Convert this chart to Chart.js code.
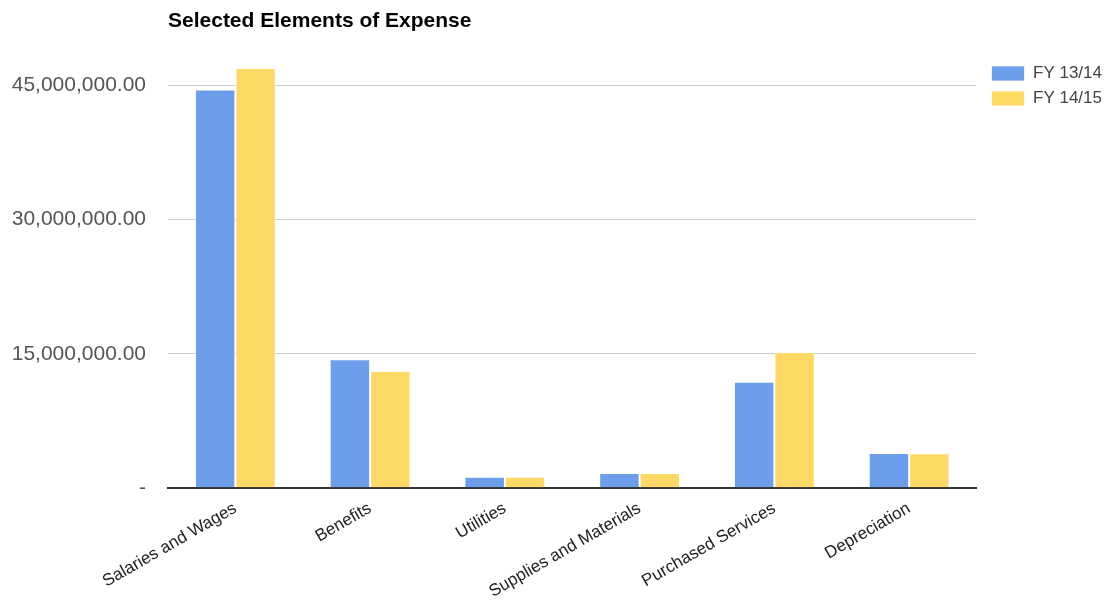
<!DOCTYPE html>
<html>
<head>
<meta charset="utf-8">
<script src="https://cdn.jsdelivr.net/npm/chart.js@4.4.1/dist/chart.umd.min.js"></script>
<style>
  html, body { margin: 0; padding: 0; background: #fff; }
  #wrap { width: 1105px; height: 606px; }
</style>
</head>
<body>
<div id="wrap"><canvas id="chart" width="1105" height="606"></canvas></div>
<script>
const categories = ['Salaries and Wages', 'Benefits', 'Utilities', 'Supplies and Materials', 'Purchased Services', 'Depreciation'];
const fy1314 = [44500000, 14400000, 1300000, 1700000, 11900000, 3940000];
const fy1415 = [46900000, 13100000, 1280000, 1700000, 15200000, 3920000];
const yTicks = [0, 15000000, 30000000, 45000000];

const FONT = 'Liberation Sans, Arial, sans-serif';
const fmt = v => v === 0 ? '-' : v.toLocaleString('en-US', { minimumFractionDigits: 2, maximumFractionDigits: 2 });

// nudge the legend down/right so it sits like the original
const legendShift = {
  id: 'legendShift',
  afterLayout(chart) {
    const lg = chart.legend;
    if (!lg) return;
    lg.left += 7; lg.right += 7;
    lg.top += 57; lg.bottom += 57;
  },
};

new Chart(document.getElementById('chart'), {
  type: 'bar',
  data: {
    labels: categories,
    datasets: [
      {
        label: 'FY 13/14',
        data: fy1314,
        backgroundColor: '#6d9eeb',
        borderColor: 'rgba(255,255,255,0.7)',
        borderWidth: 1,
        categoryPercentage: 0.6,
        barPercentage: 1.0,
      },
      {
        label: 'FY 14/15',
        data: fy1415,
        backgroundColor: '#ffd966',
        borderColor: 'rgba(255,255,255,0.7)',
        borderWidth: 1,
        categoryPercentage: 0.6,
        barPercentage: 1.0,
      },
    ],
  },
  plugins: [legendShift],
  options: {
    responsive: false,
    animation: false,
    layout: { padding: { left: 12, right: 0, top: 0, bottom: 2 } },
    plugins: {
      title: {
        display: true,
        text: 'Selected Elements of Expense',
        align: 'start',
        fullSize: false,
        color: '#000',
        font: { family: FONT, size: 21, weight: 'bold' },
        padding: { top: 9, bottom: 6 },
      },
      legend: {
        position: 'right',
        align: 'start',
        labels: {
          boxWidth: 33,
          boxHeight: 15,
          padding: 8,
          color: '#444',
          font: { family: FONT, size: 17 },
        },
      },
      tooltip: { enabled: false },
    },
    scales: {
      x: {
        grid: { display: false },
        border: { display: true, color: '#333', width: 2 },
        afterFit: scale => { scale.paddingLeft = 0; },
        ticks: {
          color: '#222',
          minRotation: 30,
          maxRotation: 30,
          padding: 2,
          font: { family: FONT, size: 17 },
        },
      },
      y: {
        min: 0,
        max: 50000000,
        afterBuildTicks: axis => { axis.ticks = yTicks.map(v => ({ value: v })); },
        afterFit: scale => { scale.width = 156; },
        grid: {
          color: ctx => (ctx.tick && ctx.tick.value === 0) ? '#333' : '#ccc',
          lineWidth: ctx => (ctx.tick && ctx.tick.value === 0) ? 2 : 1,
          drawTicks: false,
        },
        border: { display: false },
        ticks: {
          color: '#555',
          padding: 22,
          callback: v => fmt(v),
          font: { family: FONT, size: 21 },
        },
      },
    },
  },
});
</script>
</body>
</html>
